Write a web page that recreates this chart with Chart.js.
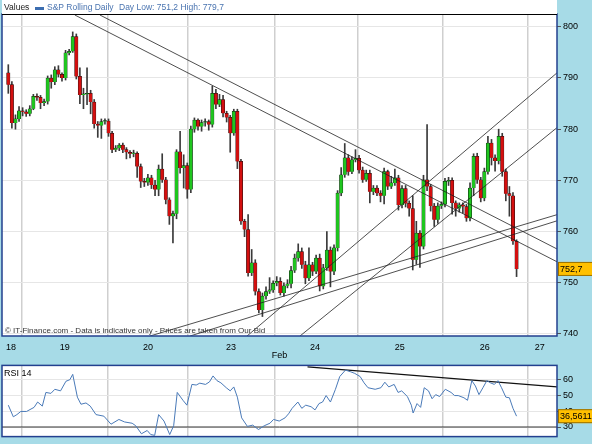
<!DOCTYPE html>
<html>
<head>
<meta charset="utf-8">
<script src="https://cdn.jsdelivr.net/npm/chart.js@4/dist/chart.umd.min.js"></script>
<style>
  body { margin: 0; background: #a7dbe7; width: 592px; height: 444px; overflow: hidden; }
  #wrapPrice { position: absolute; left: 0; top: 0; width: 592px; height: 362px; }
  #wrapRsi { position: absolute; left: 0; top: 358px; width: 592px; height: 86px; }
</style>
</head>
<body>
<div id="wrapPrice"><canvas id="priceChart" width="592" height="362"></canvas></div>
<div id="wrapRsi"><canvas id="rsiChart" width="592" height="86"></canvas></div>
<script>
// Hourly S&P rolling daily candles (bar index 0..142)
var firstOpen = 791.0;
var closes = [
    788.7, 781.2, 782.0, 783.6, 783.4, 783.0, 784.0, 786.4, 786.2, 785.1,
    785.4, 790.0, 789.2, 791.6, 790.7, 790.0, 794.9, 795.2, 798.1, 790.3,
    786.7, 786.8, 787.0, 785.3, 781.0, 780.7, 781.5, 781.6, 779.2, 776.0,
    776.3, 776.9, 776.0, 775.5, 775.2, 775.3, 772.7, 769.8, 769.6, 770.5,
    769.1, 768.2, 772.2, 770.1, 766.2, 763.0, 763.5, 775.6, 772.4, 772.9,
    768.2, 780.0, 781.8, 780.5, 781.3, 781.5, 780.9, 787.0, 784.8, 785.8,
    783.1, 782.3, 779.2, 783.5, 773.7, 762.0, 760.4, 751.9, 753.9, 748.3,
    744.7, 747.4, 748.3, 748.6, 749.9, 750.3, 748.0, 749.4, 749.8, 752.4,
    754.8, 756.1, 753.5, 750.9, 753.5, 752.2, 754.8, 749.3, 752.9, 756.4,
    752.2, 756.8, 767.5, 771.1, 774.4, 771.7, 774.0, 774.3, 772.0, 770.1,
    771.4, 767.8, 768.5, 767.5, 767.0, 771.7, 768.8, 769.5, 770.5, 765.2,
    768.4, 765.5, 764.5, 754.5, 759.7, 757.1, 770.1, 768.8, 765.0, 762.3,
    765.0, 765.3, 769.8, 770.0, 765.6, 764.5, 765.2, 764.9, 762.6, 768.5,
    774.7, 770.1, 766.5, 771.7, 777.3, 774.4, 773.8, 778.6, 771.7, 767.4,
    767.0, 758.1, 752.7
];
var highs = [
    792.6, 789.3, 782.8, 784.4, 784.2, 783.8, 784.6, 786.8, 786.9, 786.6,
    785.9, 790.4, 790.6, 792.2, 792.4, 791.0, 795.4, 795.6, 799.0, 798.6,
    792.0, 788.0, 792.0, 787.6, 785.8, 781.5, 782.0, 782.0, 782.0, 779.6,
    776.8, 777.2, 777.3, 776.4, 775.8, 775.9, 775.6, 773.2, 770.4, 771.2,
    771.0, 770.0, 773.0, 775.2, 770.6, 766.6, 764.0, 776.0, 779.6, 775.0,
    773.4, 780.6, 782.2, 782.0, 781.8, 782.0, 781.8, 788.4, 787.8, 786.8,
    786.6, 783.5, 782.7, 783.9, 783.9, 774.1, 762.4, 763.3, 756.5, 754.5,
    748.8, 748.0, 749.2, 751.0, 750.4, 751.2, 751.0, 750.0, 750.6, 753.2,
    755.6, 757.6, 756.8, 754.2, 756.8, 754.0, 755.4, 755.6, 753.6, 760.0,
    757.0, 757.4, 768.0, 772.5, 777.2, 775.0, 774.6, 776.0, 774.9, 772.6,
    772.0, 772.0, 769.0, 769.0, 768.0, 772.4, 772.0, 770.8, 772.2, 771.0,
    769.0, 769.0, 766.0, 767.0, 762.0, 760.2, 771.0, 780.9, 769.2, 765.5,
    765.6, 765.8, 770.4, 770.6, 770.5, 766.0, 765.6, 765.6, 765.3, 769.5,
    775.2, 775.3, 770.6, 772.4, 778.6, 778.0, 775.0, 780.0, 779.2, 772.2,
    768.8, 767.6, 758.4
];
var lows = [
    787.0, 780.2, 780.0, 781.5, 782.6, 782.5, 782.6, 783.8, 785.6, 784.0,
    784.6, 784.9, 788.0, 788.7, 790.2, 789.4, 789.6, 794.5, 795.0, 789.8,
    785.0, 784.0, 784.8, 783.0, 780.2, 778.4, 778.2, 781.0, 778.6, 775.4,
    775.6, 775.8, 775.4, 774.2, 774.4, 774.6, 770.6, 768.6, 768.8, 769.0,
    768.4, 767.0, 767.0, 769.6, 765.4, 761.4, 757.8, 762.5, 771.4, 768.5,
    766.5, 767.6, 779.4, 779.8, 779.6, 780.6, 779.8, 780.4, 784.0, 784.4,
    782.4, 781.4, 775.5, 778.8, 772.3, 761.4, 759.0, 751.3, 751.4, 747.6,
    744.1, 743.4, 746.8, 747.9, 748.1, 749.4, 747.6, 747.4, 749.0, 749.0,
    752.0, 754.2, 752.8, 749.8, 750.4, 751.4, 751.8, 748.4, 748.8, 752.4,
    749.2, 751.6, 756.2, 767.0, 770.6, 771.0, 771.3, 773.6, 771.4, 769.6,
    769.8, 765.6, 767.2, 767.0, 765.8, 765.4, 768.2, 768.4, 769.0, 764.2,
    764.6, 764.8, 763.0, 752.5, 753.6, 753.0, 756.6, 768.0, 764.0, 761.0,
    761.6, 764.5, 764.8, 769.0, 763.4, 763.0, 763.8, 763.6, 762.0, 762.1,
    767.0, 769.4, 765.8, 766.0, 771.2, 773.0, 771.8, 773.2, 770.8, 766.0,
    763.0, 757.5, 751.2
];

// Trend lines drawn on the price panel: [startIndex, startPrice, endIndex, endPrice]
var trendLines = [
    [18.6, 802.3, 153.3, 754.1],
    [25.6, 802.3, 153.3, 756.6],
    [39.6, 739.6, 153.3, 763.3],
    [50.8, 739.6, 153.3, 762.1],
    [66.7, 739.6, 153.3, 791.0],
    [81.5, 739.6, 153.3, 780.3]
];

// RSI 14 readings: bar index and value
var rsiIndex = [
    0.0, 1.4, 2.4, 3.5, 5.1, 7.2, 8.2, 9.5, 10.5, 11.9, 13.0, 14.6, 16.1, 17.2, 18.0,
    19.3, 20.3, 21.7, 22.9, 24.5, 26.7, 28.7, 30.9, 32.5, 34.6, 35.6, 37.2, 38.8, 39.8,
    40.9, 42.0, 43.5, 45.1, 46.2, 47.2, 48.8, 49.9, 51.3, 52.5, 53.5, 55.1, 56.2, 57.2,
    58.3, 59.4, 60.9, 62.0, 63.0, 64.0, 65.2, 66.8, 68.3, 69.9, 71.5, 73.1, 74.1, 75.7,
    77.3, 78.3, 79.3, 80.9, 82.0, 83.1, 84.6, 85.7, 86.8, 87.8, 88.8, 90.0, 91.4, 92.6,
    94.2, 95.7, 96.8, 98.3, 99.4, 100.5, 102.5, 104.1, 105.2, 106.3, 107.8, 108.9, 109.9,
    111.5, 112.6, 113.1, 114.2, 115.2, 116.2, 117.4, 118.4, 119.4, 120.5, 122.1, 123.7,
    124.7, 125.7, 127.3, 128.3, 129.5, 130.5, 131.5, 132.6, 133.7, 134.7, 135.8, 136.8,
    137.8, 139.0, 140.0, 141.0, 142.0
];
var rsiValues = [
    43.9, 36.5, 37.9, 39.9, 39.9, 42.5, 45.9, 43.3, 52.0, 51.4, 54.0, 53.0, 59.1, 60.1, 63.5,
    49.0, 44.5, 45.3, 43.3, 37.9, 36.9, 31.8, 34.8, 33.2, 32.4, 30.8, 25.7, 27.8, 25.2,
    24.7, 37.9, 33.8, 25.2, 30.8, 52.0, 47.0, 43.9, 57.1, 56.7, 57.9, 57.1, 58.7, 62.5,
    59.5, 58.1, 55.0, 53.0, 55.5, 49.0, 35.8, 30.4, 31.2, 28.4, 30.8, 32.4, 34.8, 33.8,
    35.8, 38.4, 41.9, 45.9, 41.9, 43.9, 42.9, 40.9, 44.9, 45.9, 50.0, 45.9, 54.0, 62.1,
    66.2, 65.1, 64.1, 62.1, 58.1, 55.0, 54.0, 55.0, 58.5, 55.5, 57.1, 52.0, 53.0,
    49.4, 43.9, 38.9, 44.9, 42.5, 55.0, 53.0, 48.0, 50.6, 49.4, 54.0, 52.0,
    50.0, 50.0, 48.6, 47.0, 59.5, 56.1, 50.6, 55.0, 59.5, 58.1, 57.1, 59.5,
    55.0, 49.0, 48.6, 41.9, 36.9
];
var rsiTrend = [83.6, 68.2, 153.7, 55.5];
var rsiLevel = 30;

// Axis layout
var dayStarts = [3.8, 27.8, 50.2, 74.5, 97.7, 121.4, 145.2];
var dayLabelPos = [0.75, 15.8, 39, 62.2, 85.7, 109.4, 133.1, 148.5];
var dayLabels = ['18', '19', '20', '23', '24', '25', '26', '27'];
var priceTicks = [740, 750, 760, 770, 780, 790, 800];
var rsiTicks = [30, 40, 50, 60];
var lastPriceLabel = '752,7';
var lastRsiLabel = '36,5611';

var X_MIN = -1.76, X_MAX = 153.3;
var FONT = 'Liberation Sans, Arial, sans-serif';

Chart.defaults.animation = false;
Chart.defaults.font.family = FONT;
Chart.defaults.font.size = 9;
Chart.defaults.color = '#000';

var opens = closes.map(function (c, i) { return i === 0 ? firstOpen : closes[i - 1]; });

var bodyData = closes.map(function (c, i) { return { x: i, y: [opens[i], c] }; });
var wickData = closes.map(function (c, i) { return { x: i, y: [lows[i], highs[i]] }; });
var bodyColors = closes.map(function (c, i) { return c >= opens[i] ? '#1fc61f' : '#d40f0f'; });

function lineSet(pts, color, width) {
    return {
        type: 'line',
        data: pts,
        borderColor: color,
        borderWidth: width,
        pointRadius: 0,
        fill: false,
        tension: 0,
        order: 0
    };
}

var priceDatasets = [
    { type: 'bar', data: wickData, backgroundColor: '#3a3a3a', barThickness: 1, order: 3, grouped: false },
    { type: 'bar', data: bodyData, backgroundColor: bodyColors, borderColor: '#111', borderWidth: 0.5,
      barThickness: 3.4, minBarLength: 1, order: 2, grouped: false }
];
trendLines.forEach(function (t) {
    priceDatasets.push(lineSet([{ x: t[0], y: t[1] }, { x: t[2], y: t[3] }], '#222', 0.8));
});

function fixedTicks(values) {
    return function (scale) {
        scale.ticks = values.map(function (v) { return { value: v }; });
    };
}

function panelPlugin(opts) {
    return {
        id: 'panel' + opts.name,
        beforeDraw: function (chart) {
            var ctx = chart.ctx, a = chart.chartArea;
            ctx.save();
            ctx.fillStyle = '#fff';
            ctx.fillRect(a.left, a.top, a.right - a.left, a.bottom - a.top);
            ctx.restore();
        },
        afterDraw: function (chart) {
            var ctx = chart.ctx, a = chart.chartArea;
            ctx.save();
            ctx.strokeStyle = '#23408f';
            ctx.lineWidth = 1.5;
            ctx.strokeRect(a.left, a.top, a.right - a.left, a.bottom - a.top);
            // current value box on the right axis
            var y = chart.scales.y.getPixelForValue(opts.lastValue);
            ctx.fillStyle = '#ffc000';
            ctx.fillRect(a.right + 1, y - 7, 35, 14);
            ctx.strokeStyle = '#9a7000';
            ctx.lineWidth = 1;
            ctx.strokeRect(a.right + 1.5, y - 6.5, 34, 13);
            ctx.fillStyle = '#000';
            ctx.font = '9px ' + FONT;
            ctx.textBaseline = 'middle';
            ctx.fillText(opts.lastLabel, a.right + 3, y + 0.5);
            if (opts.extra) opts.extra(chart, ctx, a);
            ctx.restore();
        }
    };
}

var priceChart = new Chart(document.getElementById('priceChart'), {
    data: { datasets: priceDatasets },
    options: {
        responsive: false,
        layout: { padding: { left: 2, top: 14, right: 0, bottom: 0 } },
        plugins: { legend: { display: false }, tooltip: { enabled: false } },
        scales: {
            x: {
                type: 'linear', min: X_MIN, max: X_MAX, offset: false,
                afterBuildTicks: fixedTicks(dayStarts),
                ticks: { display: false },
                grid: { color: '#cfcfcf', lineWidth: 1.5, drawTicks: false, offset: false },
                border: { display: false },
                afterFit: function (s) { s.height = 0; }
            },
            xl: {
                type: 'linear', position: 'bottom', min: X_MIN, max: X_MAX, offset: false,
                afterBuildTicks: fixedTicks(dayLabelPos),
                ticks: { callback: function (v, i) { return dayLabels[i]; }, padding: -2, maxRotation: 0, autoSkip: false },
                grid: { display: false },
                border: { display: false },
                afterFit: function (s) { s.height = 26; }
            },
            y: {
                position: 'right', min: 739.6, max: 802.5,
                afterBuildTicks: fixedTicks(priceTicks),
                ticks: { padding: 2, font: { size: 9 } },
                grid: { color: '#e6e6e6', tickColor: '#555', tickLength: 4 },
                border: { display: false },
                afterFit: function (s) { s.width = 35; }
            }
        }
    },
    plugins: [panelPlugin({
        name: 'Price', lastValue: closes[closes.length - 1], lastLabel: lastPriceLabel,
        extra: function (chart, ctx, a) {
            // header strip
            ctx.fillStyle = '#fff';
            ctx.fillRect(a.left, 0, a.right - a.left, a.top);
            ctx.strokeStyle = '#000';
            ctx.lineWidth = 1;
            ctx.beginPath();
            ctx.moveTo(a.left, a.top + 0.5);
            ctx.lineTo(a.right, a.top + 0.5);
            ctx.stroke();
            ctx.font = '8.5px ' + FONT;
            ctx.textBaseline = 'middle';
            ctx.fillStyle = '#222';
            ctx.fillText('Values', 4, 8);
            ctx.fillStyle = '#3c6db0';
            ctx.fillRect(35, 7, 9, 3);
            ctx.fillStyle = '#4a74b0';
            ctx.fillText('S&P Rolling Daily', 47, 8);
            ctx.fillText('Day Low: 751,2 High: 779,7', 119, 8);
            ctx.fillStyle = '#333';
            ctx.font = '8px ' + FONT;
            ctx.fillText('\u00a9 IT-Finance.com - Data is indicative only - Prices are taken from Our Bid', 5, a.bottom - 5);
            ctx.font = '9px ' + FONT;
            ctx.fillStyle = '#000';
            ctx.textAlign = 'center';
            ctx.fillText('Feb', (a.left + a.right) / 2, 356);
        }
    })]
});

var rsiChart = new Chart(document.getElementById('rsiChart'), {
    data: {
        datasets: [
            lineSet(rsiIndex.map(function (x, i) { return { x: x, y: rsiValues[i] }; }), '#4a7ab8', 1),
            lineSet([{ x: rsiTrend[0], y: rsiTrend[1] }, { x: rsiTrend[2], y: rsiTrend[3] }], '#111', 1.2),
            lineSet([{ x: X_MIN, y: rsiLevel }, { x: X_MAX, y: rsiLevel }], '#333', 1)
        ]
    },
    options: {
        responsive: false,
        layout: { padding: { left: 2, top: 6, right: 0, bottom: 0 } },
        plugins: { legend: { display: false }, tooltip: { enabled: false } },
        scales: {
            x: {
                type: 'linear', min: X_MIN, max: X_MAX,
                afterBuildTicks: fixedTicks(dayStarts),
                ticks: { display: false },
                grid: { color: '#cfcfcf', lineWidth: 1.5, drawTicks: false },
                border: { display: false },
                afterFit: function (s) { s.height = 6; }
            },
            y: {
                position: 'right', min: 23.9, max: 69.2,
                afterBuildTicks: fixedTicks(rsiTicks),
                ticks: { padding: 2, font: { size: 9 } },
                grid: { color: '#e6e6e6', tickColor: '#555', tickLength: 4 },
                border: { display: false },
                afterFit: function (s) { s.width = 35; }
            }
        }
    },
    plugins: [panelPlugin({
        name: 'Rsi', lastValue: rsiValues[rsiValues.length - 1], lastLabel: lastRsiLabel,
        extra: function (chart, ctx, a) {
            ctx.font = '9px ' + FONT;
            ctx.fillStyle = '#000';
            ctx.textBaseline = 'middle';
            ctx.fillText('RSI 14', 4, a.top + 8);
        }
    })]
});
</script>
</body>
</html>
